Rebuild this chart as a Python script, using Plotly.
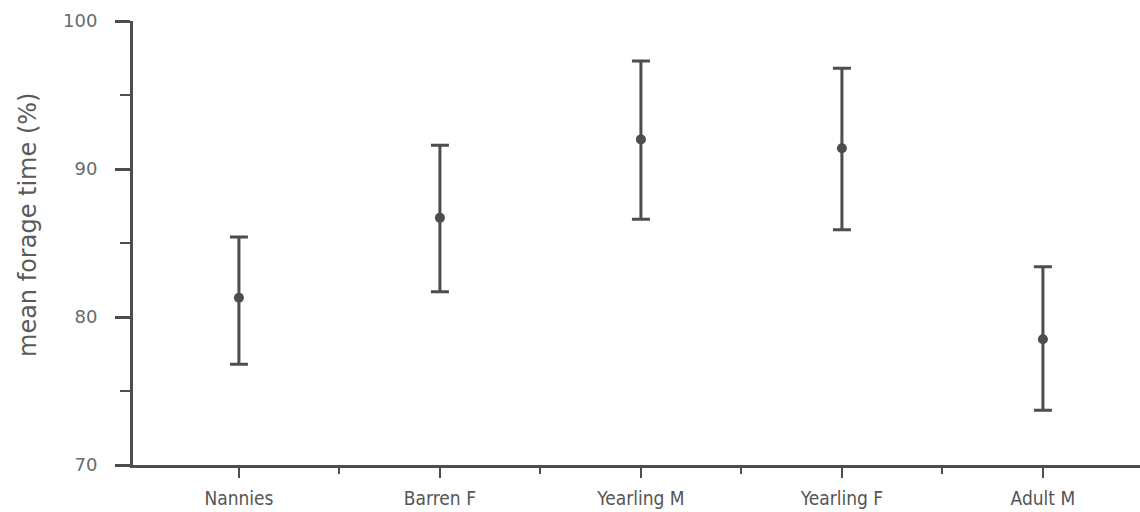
import plotly.graph_objects as go

categories = ["Nannies", "Barren F", "Yearling M", "Yearling F", "Adult M"]
means = [81.3, 86.7, 92.0, 91.4, 78.5]
upper = [85.4, 91.6, 97.3, 96.8, 83.4]
lower = [76.8, 81.7, 86.6, 85.9, 73.7]
y_ticks = [70, 80, 90, 100]

xpos = list(range(len(categories)))
err_plus = [u - m for u, m in zip(upper, means)]
err_minus = [m - l for m, l in zip(means, lower)]

INK = "#4d4d4d"
W, H = 1140, 512
ML, MR, MT, MB = 133, 0, 21, 47

fig = go.Figure()
fig.add_trace(go.Scatter(
    x=xpos, y=means, mode="markers",
    marker=dict(size=10, color=INK),
    error_y=dict(type="data", symmetric=False, array=err_plus, arrayminus=err_minus,
                 thickness=3, width=9, color=INK),
    showlegend=False, hoverinfo="skip",
))

fig.update_layout(
    width=W, height=H,
    margin=dict(l=ML, r=MR, t=MT, b=MB),
    paper_bgcolor="white", plot_bgcolor="white",
    xaxis=dict(
        range=[-0.527, 4.483],
        tickmode="array", tickvals=xpos, ticktext=categories,
        ticks="outside", ticklen=10, tickwidth=2, tickcolor=INK,
        showline=True, linewidth=3, linecolor=INK,
        showgrid=False, zeroline=False,
        minor=dict(tickvals=[0.5, 1.5, 2.5, 3.5], ticks="outside", ticklen=6,
                   tickwidth=2, tickcolor=INK, showgrid=False),
        tickfont=dict(family="Liberation Sans Narrow, DejaVu Sans Condensed, sans-serif",
                      size=19, color="#555555"),
        ticklabelstandoff=4,
    ),
    yaxis=dict(
        range=[70, 100],
        tickmode="array", tickvals=y_ticks,
        ticks="outside", ticklen=15, tickwidth=3, tickcolor=INK,
        showline=True, linewidth=3, linecolor=INK,
        showgrid=False, zeroline=False,
        minor=dict(tickvals=[75, 85, 95], ticks="outside", ticklen=10,
                   tickwidth=2, tickcolor=INK, showgrid=False),
        tickfont=dict(family="DejaVu Sans, sans-serif", size=18, color="#6a6a6a"),
        ticklabelstandoff=14,
    ),
    annotations=[dict(
        text="mean forage time (%)", textangle=-90,
        xref="paper", yref="paper",
        x=(28 - ML) / (W - ML - MR), y=(H - MB - 225) / (H - MT - MB),
        xanchor="center", yanchor="middle", showarrow=False,
        font=dict(family="DejaVu Sans, sans-serif", size=24, color="#5a5a5a"),
    )],
)

fig.write_html("out.html")
